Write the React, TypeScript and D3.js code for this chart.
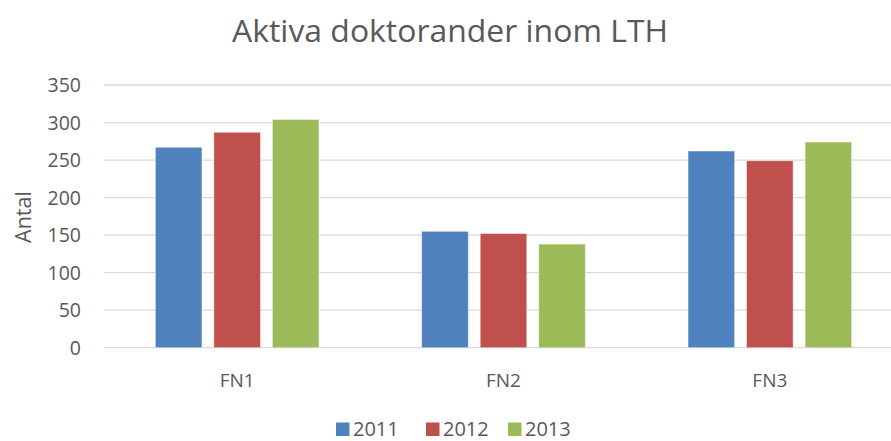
import React from "react";
import * as d3 from "d3";

const categories = ["FN1", "FN2", "FN3"];
const seriesNames = ["2011", "2012", "2013"];
const values2011 = [267, 155, 262];
const values2012 = [287, 152, 249];
const values2013 = [304, 138, 274];
const yTicks = [0, 50, 100, 150, 200, 250, 300, 350];
const colors = ["#4F81BD", "#C0504D", "#9BBB59"];

const W = 891;
const H = 441;
const FONT = "'Open Sans', 'Noto Sans', sans-serif";
const TEXT = "#595959";

export default function App() {
  const seriesValues = [values2011, values2012, values2013];
  const x0 = d3
    .scaleBand<string>()
    .domain(categories)
    .range([104, 903])
    .paddingInner(0.386)
    .paddingOuter(0.193);
  const x1 = d3
    .scaleBand<string>()
    .domain(seriesNames)
    .range([0, x0.bandwidth()])
    .paddingInner(0.205)
    .paddingOuter(0);
  const y = d3.scaleLinear().domain([0, 350]).range([347.7, 85]);

  const legendItems = [
    { x: 336, tx: 353 },
    { x: 426, tx: 443 },
    { x: 508, tx: 525 },
  ];

  return (
    <svg
      width={W}
      height={H}
      style={{ position: "absolute", left: 0, top: 0, background: "#fff" }}
      fontFamily={FONT}
    >
      <rect x={0} y={0} width={W} height={H} fill="#fff" />
      <text
        x={450}
        y={42}
        textAnchor="middle"
        fontSize={31}
        fill={TEXT}
        textLength={436}
        lengthAdjust="spacingAndGlyphs"
      >
        Aktiva doktorander inom LTH
      </text>
      {yTicks.map((t) => (
        <g key={t}>
          <line
            x1={104}
            x2={W}
            y1={y(t)}
            y2={y(t)}
            stroke="#D9D9D9"
            strokeWidth={1.3}
          />
          <text
            x={81}
            y={y(t)}
            dy="0.36em"
            textAnchor="end"
            fontSize={19.5}
            fill={TEXT}
          >
            {t}
          </text>
        </g>
      ))}
      <text
        transform={`translate(31,217) rotate(-90)`}
        textAnchor="middle"
        fontSize={21.5}
        fill={TEXT}
      >
        Antal
      </text>
      {categories.map((c, ci) => (
        <g key={c} transform={`translate(${x0(c)},0)`}>
          {seriesNames.map((s, si) => {
            const v = seriesValues[si][ci];
            return (
              <rect
                key={s}
                x={x1(s)}
                y={y(v)}
                width={x1.bandwidth()}
                height={y(0) - y(v)}
                fill={colors[si]}
                stroke="#ffffff"
                strokeOpacity={0.5}
                strokeWidth={0.75}
              />
            );
          })}
          <text
            x={x0.bandwidth() / 2}
            y={387}
            textAnchor="middle"
            fontSize={19}
            fill={TEXT}
          >
            {c}
          </text>
        </g>
      ))}
      {seriesNames.map((s, i) => (
        <g key={s}>
          <rect
            x={legendItems[i].x}
            y={422.5}
            width={13.5}
            height={13.5}
            fill={colors[i]}
          />
          <text x={legendItems[i].tx} y={435.5} fontSize={20} fill={TEXT}>
            {s}
          </text>
        </g>
      ))}
    </svg>
  );
}
